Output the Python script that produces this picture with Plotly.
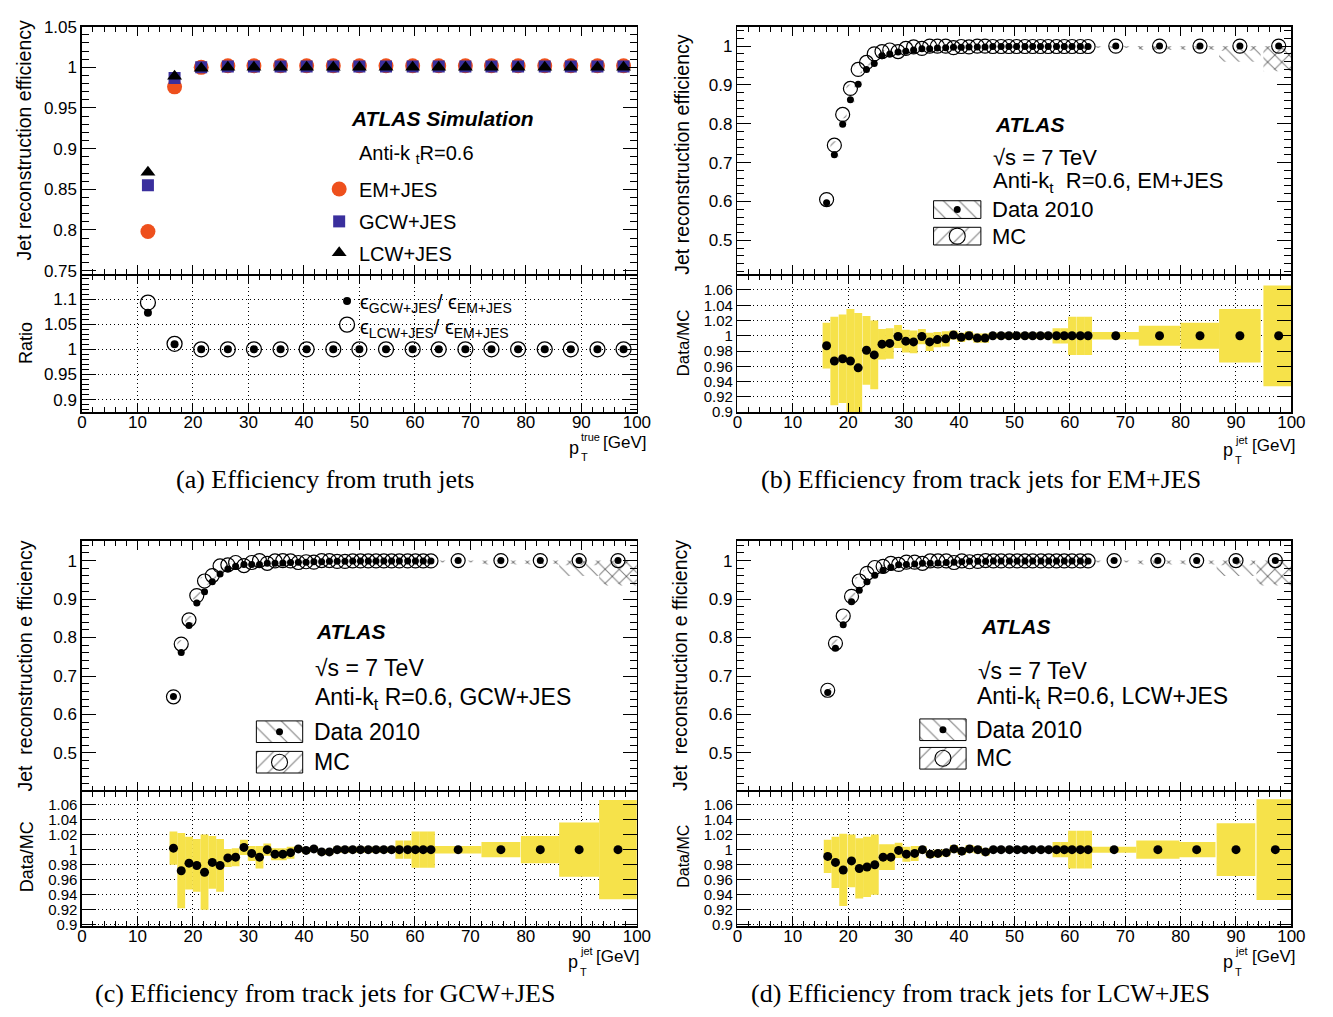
import plotly.graph_objects as go

# ------------------------------------------------------------------ data
# (a) efficiency from truth jets
pt_true = [11.9, 16.7, 21.5, 26.3, 31.0, 35.8, 40.5, 45.3, 50.0, 54.8,
           59.6, 64.3, 69.1, 73.8, 78.6, 83.4, 88.1, 92.9, 97.6]
eff_em_jes = [0.798, 0.976, 1.000, 1.002, 1.002, 1.002, 1.002, 1.002, 1.002, 1.002,
              1.002, 1.002, 1.002, 1.002, 1.002, 1.002, 1.002, 1.002, 1.002]
eff_gcw_jes = [0.855, 0.987, 1.000, 1.001, 1.001, 1.001, 1.001, 1.001, 1.001, 1.001,
               1.001, 1.001, 1.001, 1.001, 1.001, 1.001, 1.001, 1.001, 1.001]
eff_lcw_jes = [0.871, 0.989, 0.999, 1.000, 1.000, 1.000, 1.000, 1.000, 1.000, 1.000,
               1.000, 1.000, 1.000, 1.000, 1.000, 1.000, 1.000, 1.000, 1.000]
ratio_gcw_em = [1.073, 1.010, 1.000, 1.000, 1.000, 1.000, 1.000, 1.000, 1.000, 1.000,
                1.000, 1.000, 1.000, 1.000, 1.000, 1.000, 1.000, 1.000, 1.000]
ratio_lcw_em = [1.093, 1.011, 1.000, 1.000, 1.000, 1.000, 1.000, 1.000, 1.000, 1.000,
                1.000, 1.000, 1.000, 1.000, 1.000, 1.000, 1.000, 1.000, 1.000]

# (b) track jets, EM+JES
pt_b = [16.1, 17.5, 19.0, 20.4, 21.8, 23.3, 24.7, 26.1, 27.5, 29.0,
        30.4, 31.8, 33.3, 34.7, 36.1, 37.6, 39.0, 40.4, 41.8, 43.3,
        44.7, 46.1, 47.6, 49.0, 50.4, 51.9, 53.3, 54.7, 56.1, 57.6,
        59.0, 60.4, 61.9, 63.3, 68.3, 76.2, 83.5, 90.7, 97.7]
binw_b = [1.43, 1.43, 1.43, 1.43, 1.43, 1.43, 1.43, 1.43, 1.43, 1.43,
          1.43, 1.43, 1.43, 1.43, 1.43, 1.43, 1.43, 1.43, 1.43, 1.43,
          1.43, 1.43, 1.43, 1.43, 1.43, 1.43, 1.43, 1.43, 1.43, 1.43,
          1.43, 1.43, 1.43, 1.43, 8.5, 7.5, 7.0, 7.5, 5.5]
data_b = [0.597, 0.720, 0.799, 0.862, 0.902, 0.940, 0.955, 0.975, 0.980, 0.985,
          0.987, 0.990, 0.993, 0.993, 0.995, 0.996, 0.997, 0.997, 0.998, 0.998,
          0.998, 0.999, 0.999, 0.999, 0.999, 0.999, 0.999, 0.999, 0.999, 0.999,
          0.999, 0.999, 0.999, 0.999, 1.000, 1.000, 1.000, 1.000, 1.000]
mc_b = [0.605, 0.745, 0.824, 0.891, 0.940, 0.958, 0.980, 0.986, 0.990, 0.986,
        0.994, 0.998, 0.994, 1.000, 1.000, 1.000, 0.996, 0.999, 0.998, 1.000,
        1.000, 0.999, 0.999, 0.999, 0.999, 0.999, 0.999, 0.999, 0.999, 0.999,
        0.999, 0.999, 0.999, 0.999, 1.000, 1.000, 1.000, 1.000, 1.000]
ratio_b = [0.987, 0.967, 0.970, 0.967, 0.958, 0.981, 0.975, 0.989, 0.990, 0.999,
           0.993, 0.992, 0.999, 0.992, 0.995, 0.996, 1.001, 0.998, 1.000, 0.997,
           0.997, 1.000, 1.000, 1.000, 1.000, 1.000, 1.000, 1.000, 1.000, 1.000,
           1.000, 1.000, 1.000, 1.000, 1.000, 1.000, 1.000, 1.000, 1.000]
syst_b = [0.030, 0.058, 0.058, 0.068, 0.072, 0.045, 0.045, 0.020, 0.020, 0.015,
          0.015, 0.015, 0.010, 0.012, 0.010, 0.010, 0.006, 0.006, 0.006, 0.006,
          0.006, 0.004, 0.004, 0.004, 0.004, 0.004, 0.004, 0.004, 0.004, 0.010,
          0.010, 0.025, 0.025, 0.025, 0.005, 0.013, 0.017, 0.035, 0.066]
err_data_b = [0.006, 0.008, 0.008, 0.008, 0.008, 0.006, 0.006, 0.004, 0.004, 0.003,
              0.003, 0.003, 0.003, 0.003, 0.003, 0.003, 0.003, 0.003, 0.003, 0.003,
              0.003, 0.003, 0.003, 0.003, 0.003, 0.003, 0.003, 0.003, 0.003, 0.003,
              0.003, 0.004, 0.006, 0.008, 0.004, 0.010, 0.010, 0.040, 0.065]
err_mc_b = [0.006, 0.010, 0.010, 0.010, 0.010, 0.008, 0.006, 0.004, 0.004, 0.003,
            0.003, 0.003, 0.003, 0.003, 0.003, 0.003, 0.003, 0.003, 0.003, 0.003,
            0.003, 0.003, 0.003, 0.003, 0.003, 0.003, 0.003, 0.003, 0.003, 0.003,
            0.003, 0.004, 0.006, 0.008, 0.004, 0.008, 0.008, 0.012, 0.060]

# (c) track jets, GCW+JES
pt_c = [16.5, 17.9, 19.3, 20.7, 22.1, 23.5, 24.9, 26.3, 27.7, 29.2,
        30.6, 32.0, 33.4, 34.8, 36.2, 37.6, 39.0, 40.4, 41.8, 43.2,
        44.6, 46.0, 47.4, 48.8, 50.2, 51.6, 53.0, 54.4, 55.8, 57.2,
        58.7, 60.1, 61.5, 62.9, 67.8, 75.5, 82.6, 89.6, 96.6]
binw_c = [1.406, 1.406, 1.406, 1.406, 1.406, 1.406, 1.406, 1.406, 1.406, 1.406,
          1.406, 1.406, 1.406, 1.406, 1.406, 1.406, 1.406, 1.406, 1.406, 1.406,
          1.406, 1.406, 1.406, 1.406, 1.406, 1.406, 1.406, 1.406, 1.406, 1.406,
          1.406, 1.406, 1.406, 1.406, 8.4, 7.0, 7.0, 7.2, 6.8]
data_c = [0.647, 0.761, 0.831, 0.890, 0.919, 0.945, 0.965, 0.978, 0.985, 0.990,
          0.990, 0.990, 0.993, 0.993, 0.994, 0.995, 0.996, 0.996, 0.997, 0.997,
          0.998, 0.998, 0.998, 0.999, 0.999, 0.999, 0.999, 0.999, 0.999, 0.999,
          0.999, 0.999, 0.999, 0.999, 1.000, 1.000, 1.000, 1.000, 1.000]
mc_c = [0.646, 0.783, 0.846, 0.909, 0.947, 0.961, 0.986, 0.989, 0.995, 0.987,
        0.995, 1.000, 0.993, 0.999, 1.000, 0.999, 0.995, 0.997, 0.996, 1.000,
        1.000, 0.998, 0.998, 0.999, 0.999, 0.999, 0.999, 0.999, 0.999, 0.999,
        0.999, 0.999, 0.999, 0.999, 1.000, 1.000, 1.000, 1.000, 1.000]
ratio_c = [1.002, 0.972, 0.982, 0.979, 0.970, 0.983, 0.979, 0.989, 0.990, 1.003,
           0.995, 0.990, 1.000, 0.994, 0.994, 0.996, 1.001, 0.999, 1.001, 0.997,
           0.997, 1.000, 1.000, 1.000, 1.000, 1.000, 1.000, 1.000, 1.000, 1.000,
           1.000, 1.000, 1.000, 1.000, 1.000, 1.000, 1.000, 1.000, 1.000]
syst_c = [0.022, 0.050, 0.035, 0.035, 0.050, 0.035, 0.035, 0.012, 0.012, 0.010,
          0.010, 0.015, 0.008, 0.008, 0.008, 0.008, 0.004, 0.004, 0.004, 0.004,
          0.004, 0.004, 0.004, 0.004, 0.004, 0.004, 0.004, 0.004, 0.004, 0.012,
          0.012, 0.024, 0.024, 0.024, 0.005, 0.010, 0.018, 0.036, 0.066]
err_data_c = [0.006, 0.008, 0.008, 0.008, 0.008, 0.006, 0.006, 0.004, 0.004, 0.003,
              0.003, 0.003, 0.003, 0.003, 0.003, 0.003, 0.003, 0.003, 0.003, 0.003,
              0.003, 0.003, 0.003, 0.003, 0.003, 0.003, 0.003, 0.003, 0.003, 0.003,
              0.003, 0.004, 0.006, 0.008, 0.004, 0.010, 0.010, 0.040, 0.065]
err_mc_c = [0.006, 0.010, 0.010, 0.010, 0.010, 0.008, 0.006, 0.004, 0.004, 0.003,
            0.003, 0.003, 0.003, 0.003, 0.003, 0.003, 0.003, 0.003, 0.003, 0.003,
            0.003, 0.003, 0.003, 0.003, 0.003, 0.003, 0.003, 0.003, 0.003, 0.003,
            0.003, 0.004, 0.006, 0.008, 0.004, 0.008, 0.008, 0.012, 0.060]

# (d) track jets, LCW+JES
pt_d = [16.3, 17.7, 19.1, 20.6, 22.0, 23.4, 24.8, 26.3, 27.7, 29.1,
        30.5, 32.0, 33.4, 34.8, 36.2, 37.7, 39.1, 40.5, 41.9, 43.4,
        44.8, 46.2, 47.6, 49.1, 50.5, 51.9, 53.3, 54.8, 56.2, 57.6,
        59.0, 60.4, 61.9, 63.3, 68.0, 75.9, 82.9, 90.0, 97.1]
binw_d = [1.424, 1.424, 1.424, 1.424, 1.424, 1.424, 1.424, 1.424, 1.424, 1.424,
          1.424, 1.424, 1.424, 1.424, 1.424, 1.424, 1.424, 1.424, 1.424, 1.424,
          1.424, 1.424, 1.424, 1.424, 1.424, 1.424, 1.424, 1.424, 1.424, 1.424,
          1.424, 1.424, 1.424, 1.424, 8.0, 7.8, 6.8, 7.0, 6.8]
data_d = [0.657, 0.772, 0.833, 0.893, 0.923, 0.945, 0.962, 0.975, 0.983, 0.989,
          0.990, 0.991, 0.993, 0.993, 0.994, 0.995, 0.996, 0.997, 0.998, 0.998,
          0.998, 0.999, 0.999, 0.999, 0.999, 0.999, 0.999, 0.999, 0.999, 0.999,
          0.999, 0.999, 0.999, 0.999, 1.000, 1.000, 1.000, 1.000, 1.000]
mc_d = [0.663, 0.785, 0.856, 0.907, 0.947, 0.967, 0.982, 0.985, 0.993, 0.990,
        0.996, 0.996, 0.993, 0.999, 0.999, 0.999, 0.995, 0.999, 0.997, 0.998,
        1.000, 0.999, 0.999, 0.999, 0.999, 0.999, 0.999, 0.999, 0.999, 0.999,
        0.999, 0.999, 0.999, 0.999, 1.000, 1.000, 1.000, 1.000, 1.000]
ratio_d = [0.991, 0.983, 0.973, 0.985, 0.975, 0.977, 0.980, 0.990, 0.990, 0.999,
           0.994, 0.995, 1.000, 0.994, 0.995, 0.996, 1.001, 0.998, 1.001, 1.000,
           0.997, 1.000, 1.000, 1.000, 1.000, 1.000, 1.000, 1.000, 1.000, 1.000,
           1.000, 1.000, 1.000, 1.000, 1.000, 1.000, 1.000, 1.000, 1.000]
syst_d = [0.022, 0.034, 0.048, 0.035, 0.040, 0.040, 0.040, 0.017, 0.017, 0.010,
          0.010, 0.010, 0.005, 0.005, 0.005, 0.005, 0.005, 0.005, 0.005, 0.005,
          0.005, 0.003, 0.003, 0.003, 0.003, 0.003, 0.003, 0.003, 0.003, 0.010,
          0.010, 0.025, 0.025, 0.025, 0.004, 0.012, 0.010, 0.035, 0.067]
err_data_d = [0.006, 0.008, 0.008, 0.008, 0.008, 0.006, 0.006, 0.004, 0.004, 0.003,
              0.003, 0.003, 0.003, 0.003, 0.003, 0.003, 0.003, 0.003, 0.003, 0.003,
              0.003, 0.003, 0.003, 0.003, 0.003, 0.003, 0.003, 0.003, 0.003, 0.003,
              0.003, 0.004, 0.006, 0.008, 0.004, 0.010, 0.010, 0.040, 0.065]
err_mc_d = [0.006, 0.010, 0.010, 0.010, 0.010, 0.008, 0.006, 0.004, 0.004, 0.003,
            0.003, 0.003, 0.003, 0.003, 0.003, 0.003, 0.003, 0.003, 0.003, 0.003,
            0.003, 0.003, 0.003, 0.003, 0.003, 0.003, 0.003, 0.003, 0.003, 0.003,
            0.003, 0.004, 0.006, 0.008, 0.004, 0.008, 0.008, 0.012, 0.060]

# ------------------------------------------------------------------ style
W, H = 1333, 1017
SANS = 'Liberation Sans'
SERIF = 'Liberation Serif'
ORANGE = '#ee501d'
BLUE = '#3a2f9d'
YELLOW = '#f6e24a'

fig = go.Figure()


def dom_x(x0, x1):
    return [x0 / W, x1 / W]


def dom_y(y0, y1):
    return [1 - y1 / H, 1 - y0 / H]


def xaxis(xpx, anchor, labels, grid):
    return dict(domain=dom_x(*xpx), anchor=anchor, range=[0, 100], tick0=0, dtick=10,
                ticks='inside', ticklen=9, tickwidth=1, tickcolor='black',
                minor=dict(tick0=0, dtick=2, ticks='inside', ticklen=5,
                           tickwidth=1, tickcolor='black'),
                showline=True, linecolor='black', linewidth=1.5, mirror='ticks',
                showgrid=grid, gridcolor='black', gridwidth=1, griddash='1px,3px',
                zeroline=False, showticklabels=labels, ticklabelstandoff=-6,
                tickfont=dict(family=SANS, size=17, color='black'), fixedrange=True)


def yaxis(ypx, anchor, rng, tick0, dtick, minor_dtick, grid, fsize=17):
    d = dict(domain=dom_y(*ypx), anchor=anchor, range=rng, tick0=tick0, dtick=dtick,
             ticks='inside', ticklen=14, tickwidth=1, tickcolor='black',
             showline=True, linecolor='black', linewidth=1.5, mirror='ticks',
             showgrid=grid, gridcolor='black', gridwidth=1, griddash='1px,3px',
             zeroline=False, tickfont=dict(family=SANS, size=fsize, color='black'),
             fixedrange=True)
    if minor_dtick:
        d['minor'] = dict(tick0=tick0, dtick=minor_dtick, ticks='inside', ticklen=7,
                          tickwidth=1, tickcolor='black')
    return d


layout_axes = {}
# (a)
layout_axes['xaxis'] = xaxis((78, 641), 'y', False, False)
layout_axes['yaxis'] = yaxis((18, 270), 'x', [0.7452, 1.05], 0.75, 0.05, 0.01, False)
layout_axes['xaxis2'] = xaxis((78, 641), 'y2', True, True)
layout_axes['yaxis2'] = yaxis((271, 410), 'x2', [0.875, 1.147], 0.9, 0.05, 0.01, True)
# (b)
layout_axes['xaxis3'] = xaxis((743, 1305), 'y3', False, False)
layout_axes['yaxis3'] = yaxis((18, 270), 'x3', [0.412, 1.05], 0.5, 0.1, 0.02, False)
layout_axes['xaxis4'] = xaxis((743, 1305), 'y4', True, True)
layout_axes['yaxis4'] = yaxis((271, 410), 'x4', [0.9, 1.079], 0.9, 0.02, None, True, 15)
# (c)
layout_axes['xaxis5'] = xaxis((78, 641), 'y5', False, False)
layout_axes['yaxis5'] = yaxis((541, 795), 'x5', [0.402, 1.051], 0.5, 0.1, 0.02, False)
layout_axes['xaxis6'] = xaxis((78, 641), 'y6', True, True)
layout_axes['yaxis6'] = yaxis((796, 933), 'x6', [0.898, 1.077], 0.9, 0.02, None, True, 15)
# (d)
layout_axes['xaxis7'] = xaxis((743, 1305), 'y7', False, False)
layout_axes['yaxis7'] = yaxis((541, 795), 'x7', [0.402, 1.051], 0.5, 0.1, 0.02, False)
layout_axes['xaxis8'] = xaxis((743, 1305), 'y8', True, True)
layout_axes['yaxis8'] = yaxis((796, 933), 'x8', [0.898, 1.077], 0.9, 0.02, None, True, 15)
# decoration layer in pixel units (legend keys)
layout_axes['xaxis9'] = dict(domain=[0, 1], anchor='y9', range=[0, W], visible=False,
                             fixedrange=True)
layout_axes['yaxis9'] = dict(domain=[0, 1], anchor='x9', range=[H, 0], visible=False,
                             fixedrange=True)

# ------------------------------------------------------------------ (a) traces
fig.add_trace(go.Scatter(x=pt_true, y=eff_em_jes, mode='markers', xaxis='x', yaxis='y',
                         marker=dict(symbol='circle', size=15, color=ORANGE)))
fig.add_trace(go.Scatter(x=pt_true, y=eff_gcw_jes, mode='markers', xaxis='x', yaxis='y',
                         marker=dict(symbol='square', size=12, color=BLUE)))
fig.add_trace(go.Scatter(x=pt_true, y=eff_lcw_jes, mode='markers', xaxis='x', yaxis='y',
                         marker=dict(symbol='triangle-up', size=13, color='black')))
fig.add_trace(go.Scatter(x=pt_true, y=ratio_lcw_em, mode='markers', xaxis='x2', yaxis='y2',
                         marker=dict(symbol='circle-open', size=15, color='black',
                                     line=dict(width=1.3))))
fig.add_trace(go.Scatter(x=pt_true, y=ratio_gcw_em, mode='markers', xaxis='x2', yaxis='y2',
                         marker=dict(symbol='circle', size=8, color='black')))


# ------------------------------------------------------------------ (b)-(d) traces
def hatch_bars(x, w, v, e, shape, xa, ya):
    base = [vi - ei for vi, ei in zip(v, e)]
    top = [min(vi + ei, 1.0) for vi, ei in zip(v, e)]
    hgt = [t - b for t, b in zip(top, base)]
    fig.add_trace(go.Bar(x=x, y=hgt, base=base, width=w, xaxis=xa, yaxis=ya,
                         marker=dict(color='rgba(0,0,0,0)', line=dict(width=0),
                                     pattern=dict(shape=shape, fgcolor='black',
                                                  bgcolor='rgba(0,0,0,0)',
                                                  size=10, solidity=0.1))))


def track_panel(x, w, data, mc, ratio, syst, ed, em, xu, yu, xl, yl):
    hatch_bars(x, w, data, ed, '\\', xu, yu)
    hatch_bars(x, w, mc, em, '/', xu, yu)
    fig.add_trace(go.Scatter(x=x, y=mc, mode='markers', xaxis=xu, yaxis=yu,
                             marker=dict(symbol='circle-open', size=14, color='black',
                                         line=dict(width=1.2))))
    fig.add_trace(go.Scatter(x=x, y=data, mode='markers', xaxis=xu, yaxis=yu,
                             marker=dict(symbol='circle', size=7, color='black')))
    base = [r - s for r, s in zip(ratio, syst)]
    hgt = [2 * s for s in syst]
    fig.add_trace(go.Bar(x=x, y=hgt, base=base, width=w, xaxis=xl, yaxis=yl,
                         marker=dict(color=YELLOW, line=dict(width=0))))
    fig.add_trace(go.Scatter(x=x, y=ratio, mode='markers', xaxis=xl, yaxis=yl,
                             marker=dict(symbol='circle', size=9, color='black')))


track_panel(pt_b, binw_b, data_b, mc_b, ratio_b, syst_b, err_data_b, err_mc_b,
            'x3', 'y3', 'x4', 'y4')
track_panel(pt_c, binw_c, data_c, mc_c, ratio_c, syst_c, err_data_c, err_mc_c,
            'x5', 'y5', 'x6', 'y6')
track_panel(pt_d, binw_d, data_d, mc_d, ratio_d, syst_d, err_data_d, err_mc_d,
            'x7', 'y7', 'x8', 'y8')


# ------------------------------------------------------------------ legend keys
def key_marker(x, y, symbol, size, color, lw=0):
    fig.add_trace(go.Scatter(x=[x], y=[y], mode='markers', xaxis='x9', yaxis='y9',
                             cliponaxis=False,
                             marker=dict(symbol=symbol, size=size, color=color,
                                         line=dict(width=lw, color='black'))))


def key_box(x0, x1, y0, y1, shape):
    fig.add_trace(go.Scatter(x=[x0, x1, x1, x0, x0], y=[y0, y0, y1, y1, y0],
                             mode='lines', fill='toself', xaxis='x9', yaxis='y9',
                             fillcolor='white', line=dict(color='black', width=1),
                             fillpattern=dict(shape=shape, fgcolor='black', bgcolor='white',
                                              size=11, solidity=0.1)))


key_marker(339, 183, 'circle', 15, ORANGE)
key_marker(339, 216, 'square', 12, BLUE)
key_marker(339, 248, 'triangle-up', 13, 'black')
key_marker(347, 297, 'circle', 8, 'black')
key_marker(347, 321, 'circle-open', 15, 'black', 1.3)

for (bx0, bx1, y1a, y1b, y2a, y2b) in [(942, 990, 195, 213, 222, 240),
                                       (255, 302, 724, 746, 755, 777),
                                       (928, 975, 722, 744, 751, 773)]:
    key_box(bx0, bx1, y1a, y1b, '\\')
    key_box(bx0, bx1, y2a, y2b, '/')
    key_marker((bx0 + bx1) / 2, (y1a + y1b) / 2, 'circle', 7, 'black')
    key_marker((bx0 + bx1) / 2, (y2a + y2b) / 2, 'circle-open', 16, 'black', 1.1)

# ------------------------------------------------------------------ text
ann = []


def txt(x, y, s, size, xanchor='left', yanchor='middle', family=SANS, angle=0):
    ann.append(dict(x=x / W, y=1 - y / H, xref='paper', yref='paper', text=s,
                    showarrow=False, xanchor=xanchor, yanchor=yanchor, textangle=angle,
                    font=dict(family=family, size=size, color='black')))


# (a)
txt(349, 111, '<b><i>ATLAS Simulation</i></b>', 21)
txt(357, 148, 'Anti-k <sub>t</sub>R=0.6', 20)
txt(357, 184, 'EM+JES', 20)
txt(357, 217, 'GCW+JES', 20)
txt(357, 249, 'LCW+JES', 20)
txt(358, 300, '\u03f5<sub>GCW+JES</sub>/ \u03f5<sub>EM+JES</sub>', 20)
txt(358, 325, '\u03f5<sub>LCW+JES</sub>/ \u03f5<sub>EM+JES</sub>', 20)
txt(19, 133, 'Jet reconstruction efficiency', 19.5, 'center', angle=-90)
txt(22, 340, 'Ratio', 18, 'center', angle=-90)
txt(577, 446, 'p', 18, 'center')
txt(582, 435, 'true', 11)
txt(582, 456, 'T', 11)
txt(605, 441, '[GeV]', 17)
txt(325, 479, '(a) Efficiency from truth jets', 26, 'center', family=SERIF)

# (b)
txt(1002, 117, '<b><i>ATLAS</i></b>', 21)
txt(1000, 151, '\u221as = 7 TeV', 22)
txt(1000, 176, 'Anti-k<sub>t</sub>  R=0.6, EM+JES', 22)
txt(999, 204, 'Data 2010', 22)
txt(999, 231, 'MC', 22)
txt(686, 148, 'Jet reconstruction efficiency', 19.5, 'center', angle=-90)
txt(688, 340, 'Data/MC', 17, 'center', angle=-90)
txt(1241, 449, 'p', 18, 'center')
txt(1246, 438, 'jet', 11)
txt(1246, 459, 'T', 11)
txt(1263, 444, '[GeV]', 17)
txt(990, 479, '(b) Efficiency from track jets for EM+JES', 26, 'center', family=SERIF)

# (c)
txt(313, 633, '<b><i>ATLAS</i></b>', 21)
txt(312, 670, '\u221as = 7 TeV', 23)
txt(312, 701, 'Anti-k<sub>t</sub> R=0.6, GCW+JES', 23)
txt(311, 735, 'Data 2010', 23)
txt(311, 766, 'MC', 23)
txt(20, 668, 'Jet  reconstruction e fficiency', 19.5, 'center', angle=-90)
txt(22, 862, 'Data/MC', 18, 'center', angle=-90)
txt(576, 969, 'p', 18, 'center')
txt(581, 958, 'jet', 11)
txt(581, 979, 'T', 11)
txt(598, 964, '[GeV]', 17)
txt(325, 1001, '(c) Efficiency from track jets for GCW+JES', 26, 'center', family=SERIF)

# (d)
txt(988, 628, '<b><i>ATLAS</i></b>', 21)
txt(985, 673, '\u221as = 7 TeV', 23)
txt(984, 700, 'Anti-k<sub>t</sub> R=0.6, LCW+JES', 23)
txt(983, 733, 'Data 2010', 23)
txt(983, 762, 'MC', 23)
txt(685, 668, 'Jet  reconstruction e fficiency', 19.5, 'center', angle=-90)
txt(688, 862, 'Data/MC', 16, 'center', angle=-90)
txt(1241, 969, 'p', 18, 'center')
txt(1246, 958, 'jet', 11)
txt(1246, 979, 'T', 11)
txt(1263, 964, '[GeV]', 17)
txt(990, 1001, '(d) Efficiency from track jets for LCW+JES', 26, 'center', family=SERIF)

fig.update_layout(width=W, height=H, autosize=False,
                  margin=dict(l=0, r=0, t=0, b=0, pad=0),
                  paper_bgcolor='white', plot_bgcolor='rgba(0,0,0,0)',
                  showlegend=False, barmode='overlay', hovermode=False,
                  annotations=ann, **layout_axes)

fig.write_html("out.html", config={'displayModeBar': False, 'staticPlot': True},
               post_script="document.body.style.margin='0';document.body.style.overflow='hidden';")
